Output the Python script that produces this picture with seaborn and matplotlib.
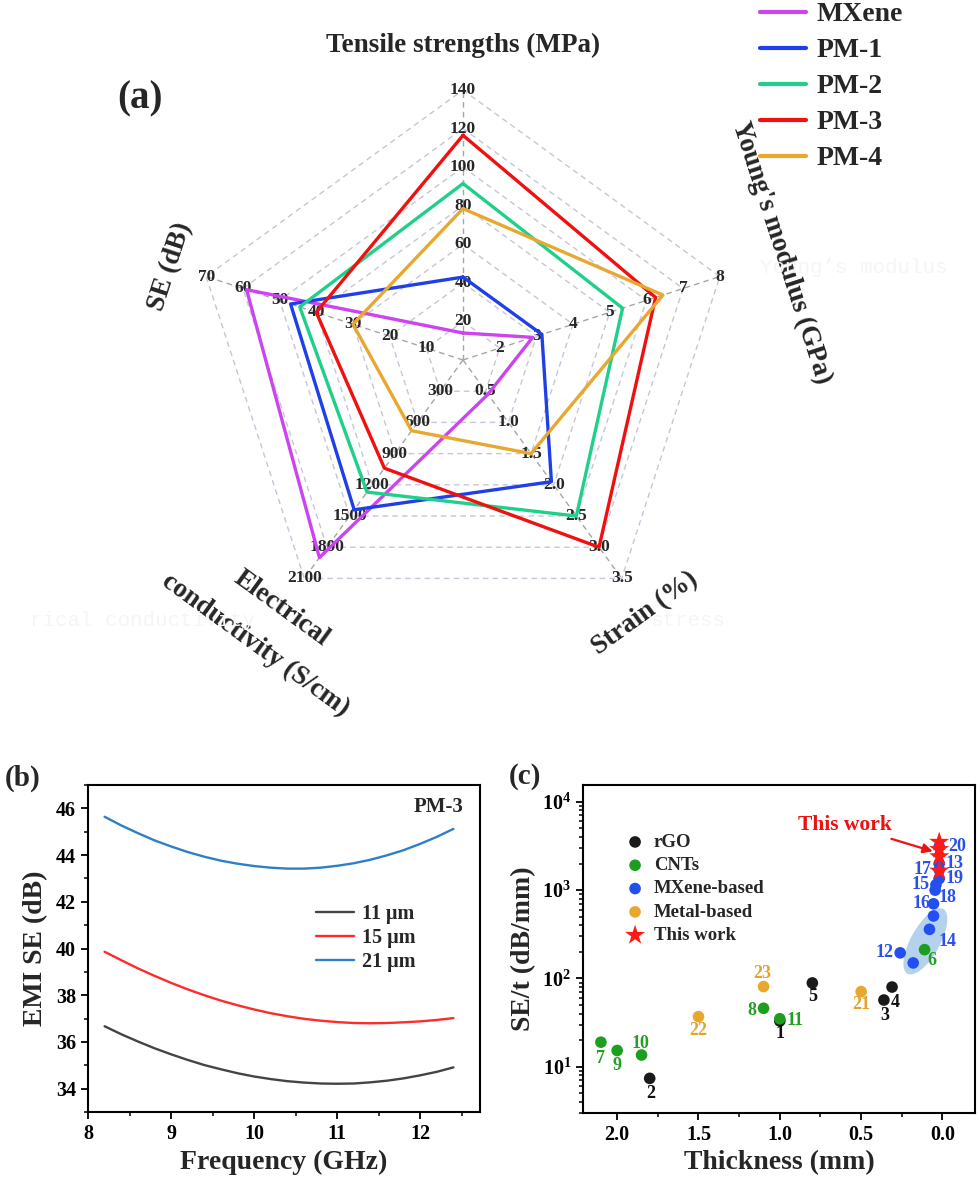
import numpy as np
import pandas as pd
import matplotlib
matplotlib.use('Agg')
import matplotlib.pyplot as plt
import matplotlib.ticker as mticker
import matplotlib.transforms as mtransforms
from matplotlib.patches import Ellipse
import seaborn as sns

# ---------------- (a) radar chart data ----------------
spoke_names = ['Tensile strengths (MPa)', "Young's modulus (GPa)", 'Strain (%)',
               'Electrical conductivity (S/cm)', 'SE (dB)']
spoke_min = [0, 1, 0, 0, 0]
spoke_max = [140, 8, 3.5, 2100, 70]
materials = ['MXene', 'PM-1', 'PM-2', 'PM-3', 'PM-4']
tensile = [14, 43, 91.5, 116.5, 78.5]
modulus = [2.9, 3.15, 5.35, 6.25, 6.45]
strain = [0.55, 1.95, 2.5, 3.0, 1.5]
conductivity = [1900, 1440, 1270, 1040, 680]
shielding = [59, 47, 44.5, 40, 30]
mat_colors = ['#cc44f0', '#1f3fe8', '#1fd08a', '#f01010', '#e8a830']

# ---------------- (b) EMI SE of PM-3 ----------------
freq = [8.2, 8.4, 8.6, 8.8, 9.0, 9.2, 9.4, 9.6, 9.8, 10.0, 10.2,
        10.4, 10.6, 10.8, 11.0, 11.2, 11.4, 11.6, 11.8, 12.0, 12.2, 12.4]
se_11 = [36.67, 36.33, 36.02, 35.73, 35.47, 35.23, 35.01, 34.83, 34.66, 34.52, 34.41,
         34.32, 34.26, 34.22, 34.21, 34.22, 34.27, 34.34, 34.44, 34.57, 34.72, 34.91]
se_15 = [39.86, 39.50, 39.15, 38.83, 38.53, 38.25, 38.00, 37.77, 37.57, 37.39, 37.23,
         37.10, 36.99, 36.91, 36.85, 36.81, 36.80, 36.81, 36.84, 36.88, 36.94, 37.02]
se_21 = [45.64, 45.27, 44.94, 44.63, 44.37, 44.13, 43.93, 43.76, 43.63, 43.53, 43.46,
         43.42, 43.42, 43.46, 43.54, 43.65, 43.80, 43.99, 44.21, 44.48, 44.78, 45.12]
thick_labels = ['11 \u03bcm', '15 \u03bcm', '21 \u03bcm']
thick_colors = ['#444444', '#ff2a2a', '#2f7fc8']

# ---------------- (c) SE/t vs thickness ----------------
ref_no = ['1', '2', '3', '4', '5', '6', '7', '8', '9', '10', '11', '12', '13',
          '14', '14', '14', '15', '16', '17', '18', '19', '20', '21', '22', '23']
ref_thick = [1.00, 1.80, 0.36, 0.31, 0.80, 0.11, 2.10, 1.10, 2.00, 1.85, 1.00, 0.26, 0.02,
             0.18, 0.08, 0.055, 0.04, 0.055, 0.02, 0.045, 0.02, 0.02, 0.50, 1.50, 1.10]
ref_set = [33, 7.4, 57, 80, 89, 212, 19, 46, 15.3, 13.6, 35, 195, 2000,
           150, 360, 510, 1150, 700, 1700, 1000, 1350, 3100, 71, 37, 81]
ref_group = ['rGO'] * 5 + ['CNTs'] * 6 + ['MXene-based'] * 11 + ['Metal-based'] * 3
work_thick = [0.02, 0.02, 0.02, 0.02]
work_set = [3500, 2900, 2400, 1650]
groups = ['rGO', 'CNTs', 'MXene-based', 'Metal-based']
group_colors = ['#1a1a1a', '#1e9e1e', '#2250f0', '#e8a830']
num_colors = ['#111111', '#22a022', '#2a50e8', '#e3a32c']
# label offsets (points) for the reference numbers, None = no label
num_offsets = [(0, -9), (1, -11), (1, -11), (2.5, -11), (0, -10), (5.5, -7.5), (0, -12),
               (-8.5, -1.5), (0, -11), (-1, 8.5), (11, -1), (-11, 0), (11, 0),
               None, (13, -9), None, (-11, 0), (-9, 0), (-12, 0), (9, -5), (11, 0),
               (13, 0), (0, -9), (0, -10), (-1, 9.5)]

sns.set_style('ticks')
plt.rcParams.update({
    'font.family': ['Liberation Serif', 'DejaVu Serif'],
    'font.weight': 'bold',
    'axes.labelweight': 'bold',
    'mathtext.fontset': 'custom',
    'mathtext.rm': 'Liberation Serif:bold',
    'mathtext.bf': 'Liberation Serif:bold',
    'mathtext.it': 'Liberation Serif:bold:italic',
    'axes.linewidth': 1.5,
    'axes.edgecolor': 'black',
    'xtick.direction': 'out',
    'ytick.direction': 'out',
    'xtick.major.size': 5,
    'ytick.major.size': 5,
    'xtick.minor.size': 3,
    'ytick.minor.size': 3,
    'xtick.major.width': 1.3,
    'ytick.major.width': 1.3,
    'xtick.minor.width': 1.1,
    'ytick.minor.width': 1.1,
    'xtick.color': 'black',
    'ytick.color': 'black',
})

W, H = 980, 1185
fig = plt.figure(figsize=(W / 100, H / 100), dpi=100)

# ======================= (a) radar =======================
R = 270.0
cx, cy = 463, 360
axr = fig.add_axes([0, 1 - 720 / H, 1, 720 / H])
axr.set_xlim(-cx / R, (W - cx) / R)
axr.set_ylim(-cy / R, (720 - cy) / R)
axr.axis('off')

ang = np.deg2rad(90 - 72 * np.arange(5))
lo = np.array(spoke_min, float)
hi = np.array(spoke_max, float)
closed = np.r_[ang, ang[0]]
for k in range(1, 8):
    axr.plot(k / 7 * np.cos(closed), k / 7 * np.sin(closed), ls=(0, (4, 3)),
             color='#c6c6d8', lw=1.0, zorder=1)
for a in ang:
    axr.plot([0, np.cos(a)], [0, np.sin(a)], ls=(0, (4, 3)), color='#a6a6a6', lw=1.0, zorder=1)
for i, a in enumerate(ang):
    for k in range(1, 8):
        v = lo[i] + k * (hi[i] - lo[i]) / 7
        txt = f'{v:.1f}' if i == 2 else f'{v:.0f}'
        axr.text(k / 7 * np.cos(a), k / 7 * np.sin(a), txt, ha='center', va='center',
                 fontsize=12.5, zorder=2)

rows = []
table = np.array([tensile, modulus, strain, conductivity, shielding], float).T
for m, vals in zip(materials, table):
    frac = (vals - lo) / (hi - lo)
    frac = np.r_[frac, frac[0]]
    for j, (f, a) in enumerate(zip(frac, closed)):
        rows.append({'material': m, 'step': j, 'x': f * np.cos(a), 'y': f * np.sin(a)})
radar_df = pd.DataFrame(rows)
sns.lineplot(data=radar_df, x='x', y='y', hue='material', hue_order=materials,
             palette=mat_colors, sort=False, estimator=None, lw=2.4, ax=axr, zorder=3)
handles, labels = axr.get_legend_handles_labels()
if axr.get_legend() is not None:
    axr.get_legend().remove()
leg = fig.legend(handles, labels, loc='upper left', bbox_to_anchor=(760 / W, 1 - 2 / H),
                 frameon=False, fontsize=20, handlelength=1.65, handletextpad=0.4,
                 labelspacing=0.38, borderpad=0, borderaxespad=0)
for ln in leg.get_lines():
    ln.set_linewidth(3)


def px(x, y):
    return (x - cx) / R, (cy - y) / R


title_kw = dict(fontsize=19.5, ha='center', va='center', zorder=4)
axr.text(*px(463, 45), spoke_names[0], **title_kw)
axr.text(*px(781, 253), spoke_names[1], rotation=-72, **title_kw)
axr.text(*px(645, 613), spoke_names[2], rotation=36, **title_kw)
axr.text(*px(281, 608), 'Electrical', rotation=-36, **title_kw)
axr.text(*px(255, 645), 'conductivity (S/cm)', rotation=-36, **title_kw)
axr.text(*px(170, 267), spoke_names[4], rotation=72, **title_kw)

# faint leftover labels visible in the original figure
ghost = dict(family='Liberation Mono', fontweight='normal', color='#f5f5f5', fontsize=15,
             va='center', zorder=0)
fig.text(854 / W, 1 - 268 / H, 'Young\u2019s modulus', ha='center', **ghost)
fig.text(30 / W, 1 - 620 / H, 'rical conductivity', ha='left', **ghost)
fig.text(688 / W, 1 - 620 / H, 'stress', ha='center', **ghost)

fig.text(140 / W, 1 - 99 / H, '(a)', fontsize=28, ha='center', va='center')

# ======================= (b) EMI SE =======================
axb = fig.add_axes([88 / W, 1 - 1112 / H, 392 / W, 327 / H])
b_df = pd.DataFrame({'freq': freq * 3,
                     'se': se_11 + se_15 + se_21,
                     'thick': np.repeat(thick_labels, len(freq))})
sns.lineplot(data=b_df, x='freq', y='se', hue='thick', hue_order=thick_labels,
             palette=thick_colors, lw=1.7, ax=axb)
axb.set_xlim(8, 12.72)
axb.set_ylim(33, 47)
axb.xaxis.set_major_locator(mticker.MultipleLocator(1))
axb.xaxis.set_minor_locator(mticker.MultipleLocator(0.5))
axb.yaxis.set_major_locator(mticker.MultipleLocator(2))
axb.yaxis.set_minor_locator(mticker.MultipleLocator(1))
axb.tick_params(labelsize=14.5)
axb.set_xlabel('Frequency (GHz)', fontsize=20, labelpad=4)
axb.set_ylabel('EMI SE (dB)', fontsize=20, labelpad=6)
axb.legend(loc='upper left', bbox_to_anchor=(0.555, 0.668), frameon=False, fontsize=14.5,
           handlelength=1.9, handletextpad=0.4, labelspacing=0.2, borderpad=0)
axb.text(0.957, 0.963, 'PM-3', transform=axb.transAxes, ha='right', va='top', fontsize=15)
fig.text(23 / W, 1 - 778 / H, '(b)', fontsize=21, ha='center', va='center')

# ======================= (c) SE/t vs thickness =======================
axc = fig.add_axes([583 / W, 1 - 1113 / H, 392 / W, 328 / H])
axc.set_yscale('log')
axc.set_xlim(2.21, -0.2)
axc.set_ylim(3, 15500)

ell_tr = fig.dpi_scale_trans + mtransforms.ScaledTranslation(0.105, 263, axc.transData)
axc.add_patch(Ellipse((0, 0), width=0.74, height=0.29, angle=61, transform=ell_tr,
                      facecolor='#9cc3e6', edgecolor='none', alpha=0.75, zorder=1))

c_df = pd.DataFrame({'no': ref_no, 'thick': ref_thick, 'set': ref_set, 'group': ref_group})
for g, col in zip(groups, group_colors):
    sub = c_df[c_df['group'] == g]
    sns.scatterplot(x=sub['thick'], y=sub['set'], color=col, s=70, edgecolor='none',
                    label=g, ax=axc, zorder=3)
sns.scatterplot(x=work_thick, y=work_set, color='#ff1a1a', marker='*', s=230,
                edgecolor='none', label='This work', ax=axc, zorder=4)

gcol = dict(zip(groups, num_colors))
for (n, x, y, g), off in zip(c_df.itertuples(index=False), num_offsets):
    if off is None:
        continue
    axc.annotate(n, (x, y), xytext=off, textcoords='offset points', ha='center',
                 va='center', color=gcol[g], fontsize=13, zorder=5)

axc.annotate('This work', xy=(0.06, 2750), xytext=(0.60, 5500), color='#ee1111',
             fontsize=15.5, ha='center', va='center', zorder=6,
             arrowprops=dict(arrowstyle='-|>', color='#ee1111', lw=1.6,
                             mutation_scale=14, shrinkA=2, shrinkB=0))

axc.set_yticks([10, 100, 1000, 10000])
axc.set_yticklabels([r'$\mathbf{10^{1}}$', r'$\mathbf{10^{2}}$',
                     r'$\mathbf{10^{3}}$', r'$\mathbf{10^{4}}$'])
axc.yaxis.set_minor_locator(mticker.LogLocator(base=10, subs=np.arange(2, 10)))
axc.yaxis.set_minor_formatter(mticker.NullFormatter())
axc.xaxis.set_major_locator(mticker.FixedLocator([2.0, 1.5, 1.0, 0.5, 0.0]))
axc.xaxis.set_major_formatter(mticker.FormatStrFormatter('%.1f'))
axc.xaxis.set_minor_locator(mticker.MultipleLocator(0.25))
axc.tick_params(labelsize=14.5)
axc.set_xlabel('Thickness (mm)', fontsize=20, labelpad=4)
axc.set_ylabel('SE/t (dB/mm)', fontsize=20, labelpad=4)
axc.legend(loc='upper left', bbox_to_anchor=(0.085, 0.88), frameon=False, fontsize=13.5,
           handlelength=1.0, handletextpad=0.5, labelspacing=0.33, borderpad=0,
           markerscale=1.0)
fig.text(525 / W, 1 - 777 / H, '(c)', fontsize=21, ha='center', va='center')

fig.savefig('out.png', dpi=100)
